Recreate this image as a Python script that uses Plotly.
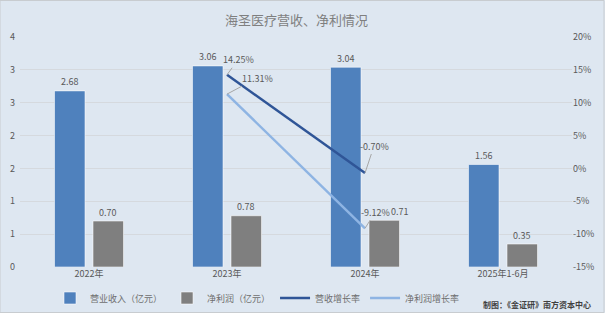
import plotly.graph_objects as go

categories = ["2022年", "2023年", "2024年", "2025年1-6月"]
revenue = [2.68, 3.06, 3.04, 1.56]
profit = [0.70, 0.78, 0.71, 0.35]
growth_cats = ["2023年", "2024年"]
rev_growth = [14.25, -0.70]
profit_growth = [11.31, -9.12]
left_ticks = [0, 0.5, 1, 1.5, 2, 2.5, 3, 3.5]
left_ticktext = ["0", "1", "1", "2", "2", "3", "3", "4"]
right_ticks = [-15, -10, -5, 0, 5, 10, 15, 20]

W, H = 605, 313
ML, MR, MT, MB = 20, 33, 37, 46

BLUE = "#4F81BD"
GREY = "#7F7F7F"
DARK = "#2F5597"
LIGHT = "#8EB4E3"
TXT = "#595959"
FONT = "Noto Sans CJK SC"

fig = go.Figure()
fig.add_trace(go.Bar(x=categories, y=revenue, name="营业收入（亿元）",
                     marker=dict(color=BLUE, line=dict(color="rgba(255,255,255,0.55)", width=1))))
fig.add_trace(go.Bar(x=categories, y=profit, name="净利润（亿元）",
                     marker=dict(color=GREY, line=dict(color="rgba(255,255,255,0.55)", width=1))))
fig.add_trace(go.Scatter(x=growth_cats, y=rev_growth, name="营收增长率", yaxis="y2",
                         mode="lines", line=dict(color=DARK, width=2.5)))
fig.add_trace(go.Scatter(x=growth_cats, y=profit_growth, name="净利润增长率", yaxis="y2",
                         mode="lines", line=dict(color=LIGHT, width=2.5)))

annotations = []
# bar value labels
for c, v in zip(categories, revenue):
    annotations.append(dict(x=c, y=v, xref="x", yref="y", text=f"{v:.2f}", showarrow=False,
                            xshift=-19, yshift=9, font=dict(size=9, color=TXT, family=FONT)))
for i, (c, v) in enumerate(zip(categories, profit)):
    annotations.append(dict(x=c, y=v, xref="x", yref="y", text=f"{v:.2f}", showarrow=False,
                            xshift=19 + (16 if i == 2 else 0), yshift=9,
                            font=dict(size=9, color=TXT, family=FONT)))
# growth labels with leader lines
rev_offsets = [(11, -15), (9, -27)]
prof_offsets = [(30, -16), (10, -16)]
for c, v, (ax, ay) in zip(growth_cats, rev_growth, rev_offsets):
    annotations.append(dict(x=c, y=v, xref="x", yref="y2", text=f"{v:.2f}%", showarrow=True,
                            arrowhead=0, arrowwidth=1, arrowcolor="#A6A6A6", ax=ax, ay=ay,
                            font=dict(size=9, color=TXT, family=FONT)))
for c, v, (ax, ay) in zip(growth_cats, profit_growth, prof_offsets):
    annotations.append(dict(x=c, y=v, xref="x", yref="y2", text=f"{v:.2f}%", showarrow=True,
                            arrowhead=0, arrowwidth=1, arrowcolor="#A6A6A6", ax=ax, ay=ay,
                            font=dict(size=9, color=TXT, family=FONT)))
pw = W - ML - MR
ph = H - MT - MB
# title & source
annotations.append(dict(x=0.5, y=1 + (MT - 19) / ph, xref="paper", yref="paper", text="海圣医疗营收、净利情况",
                        showarrow=False, xanchor="center", yanchor="middle",
                        font=dict(size=13, color="#7F7F7F", family=FONT)))
annotations.append(dict(x=(593 - ML) / pw, y=-(304 - (H - MB)) / ph, xref="paper", yref="paper",
                        text="<b>制图：《金证研》南方资本中心</b>", showarrow=False,
                        xanchor="right", yanchor="middle",
                        font=dict(size=8, color="#404040", family=FONT)))

fig.update_layout(
    width=W, height=H,
    margin=dict(l=ML, r=MR, t=MT, b=MB, autoexpand=False),
    paper_bgcolor="#DEE7F1", plot_bgcolor="#DEE7F1",
    barmode="group", bargap=0.442, bargroupgap=0.208,
    font=dict(family=FONT, size=9, color=TXT),
    showlegend=True,
    legend=dict(orientation="h", xref="container", yref="container",
                x=50 / W, xanchor="left", y=1 - 298 / H, yanchor="middle",
                font=dict(size=9, color="#6F6F6F", family=FONT), bgcolor="rgba(0,0,0,0)",
                itemwidth=30, tracegroupgap=0),
    xaxis=dict(type="category", categoryorder="array", categoryarray=categories,
               showgrid=False, showline=False, ticks="", tickfont=dict(size=9, color=TXT)),
    yaxis=dict(range=[0, 3.5], tickvals=left_ticks, ticktext=left_ticktext,
               showgrid=True, gridcolor="#D5D9DE", gridwidth=1, zeroline=False,
               tickfont=dict(size=9, color=TXT), ticklabelstandoff=4),
    yaxis2=dict(range=[-15, 20], tickvals=right_ticks, ticktext=[f"{t}%" for t in right_ticks],
                overlaying="y", side="right", showgrid=False, zeroline=False,
                tickfont=dict(size=9, color=TXT)),
    annotations=annotations,
    shapes=[dict(type="rect", xref="paper", yref="paper",
                 x0=-ML / pw, x1=1 + (MR - 1) / pw, y0=-(MB - 0.5) / ph, y1=1 + (MT - 0.5) / ph,
                 line=dict(color="#C8CCD0", width=1), fillcolor="rgba(0,0,0,0)", layer="below")],
)

fig.write_html("out.html")
